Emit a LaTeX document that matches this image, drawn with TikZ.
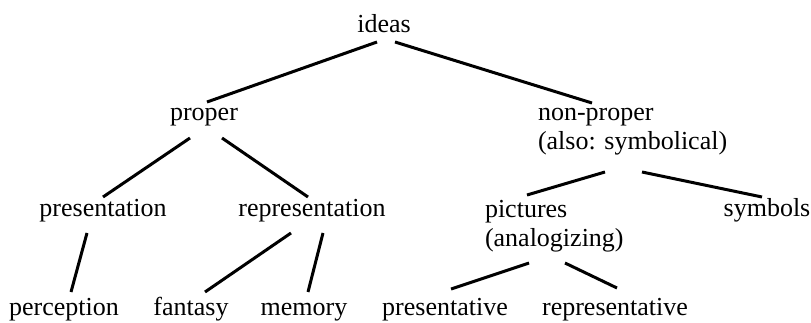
\documentclass[tikz,border=0pt]{standalone}
\usepackage{fontspec}
\setmainfont{Liberation Serif}
\usetikzlibrary{calc}
\begin{document}
\begin{tikzpicture}[x=1pt,y=-1pt,
  lbl/.style={inner sep=0pt, outer sep=0pt, font=\fontsize{26}{29}\selectfont},
  lbl2/.style={lbl, align=left, anchor=base west},
  edge/.style={line width=3pt}]
\useasboundingbox[fill=white] (0,0) rectangle (811,323);
% nodes (two-line nodes are placed by the baseline of their last line)
\node[lbl, anchor=base] (ideas) at (384,33) {ideas};
\node[lbl, anchor=base] (proper) at (204,121) {proper};
\node[lbl2] (nonproper) at (538,150) {non-proper\\(also: symbolical)};
\node[lbl, anchor=base] (presentation) at (103,217) {presentation};
\node[lbl, anchor=base] (representation) at (312,217) {representation};
\node[lbl2] (pictures) at (485,247) {pictures\\(analogizing)};
\node[lbl, anchor=base] (symbols) at (767,217) {symbols};
\node[lbl, anchor=base] (perception) at (64,315) {perception};
\node[lbl, anchor=base] (fantasy) at (191,315) {fantasy};
\node[lbl, anchor=base] (memory) at (304,315) {memory};
\node[lbl, anchor=base] (presentative) at (445,315) {presentative};
\node[lbl, anchor=base] (representative) at (615,315) {representative};
% connectors
\draw[edge] ($(ideas.base)+(-7,9)$) -- ($(proper.base)+(3,-19)$);
\draw[edge] ($(ideas.base)+(11,9)$) -- ($(nonproper.base west)+(54,-47)$);
\draw[edge] ($(proper.base)+(-14,17)$) -- ($(presentation.base)+(0,-20)$);
\draw[edge] ($(proper.base)+(18,17)$) -- ($(representation.base)+(-4,-20)$);
\draw[edge] ($(nonproper.base west)+(67,22)$) -- ($(pictures.base west)+(42,-52)$);
\draw[edge] ($(nonproper.base west)+(104,22)$) -- ($(symbols.base)+(-5,-20)$);
\draw[edge] ($(presentation.base)+(-16,16)$) -- ($(perception.base)+(7,-23)$);
\draw[edge] ($(representation.base)+(-21,16)$) -- ($(fantasy.base)+(14,-23)$);
\draw[edge] ($(representation.base)+(11,16)$) -- ($(memory.base)+(4,-23)$);
\draw[edge] ($(pictures.base west)+(44,16)$) -- ($(presentative.base)+(6,-26)$);
\draw[edge] ($(pictures.base west)+(80,16)$) -- ($(representative.base)+(2,-27)$);
\end{tikzpicture}
\end{document}
